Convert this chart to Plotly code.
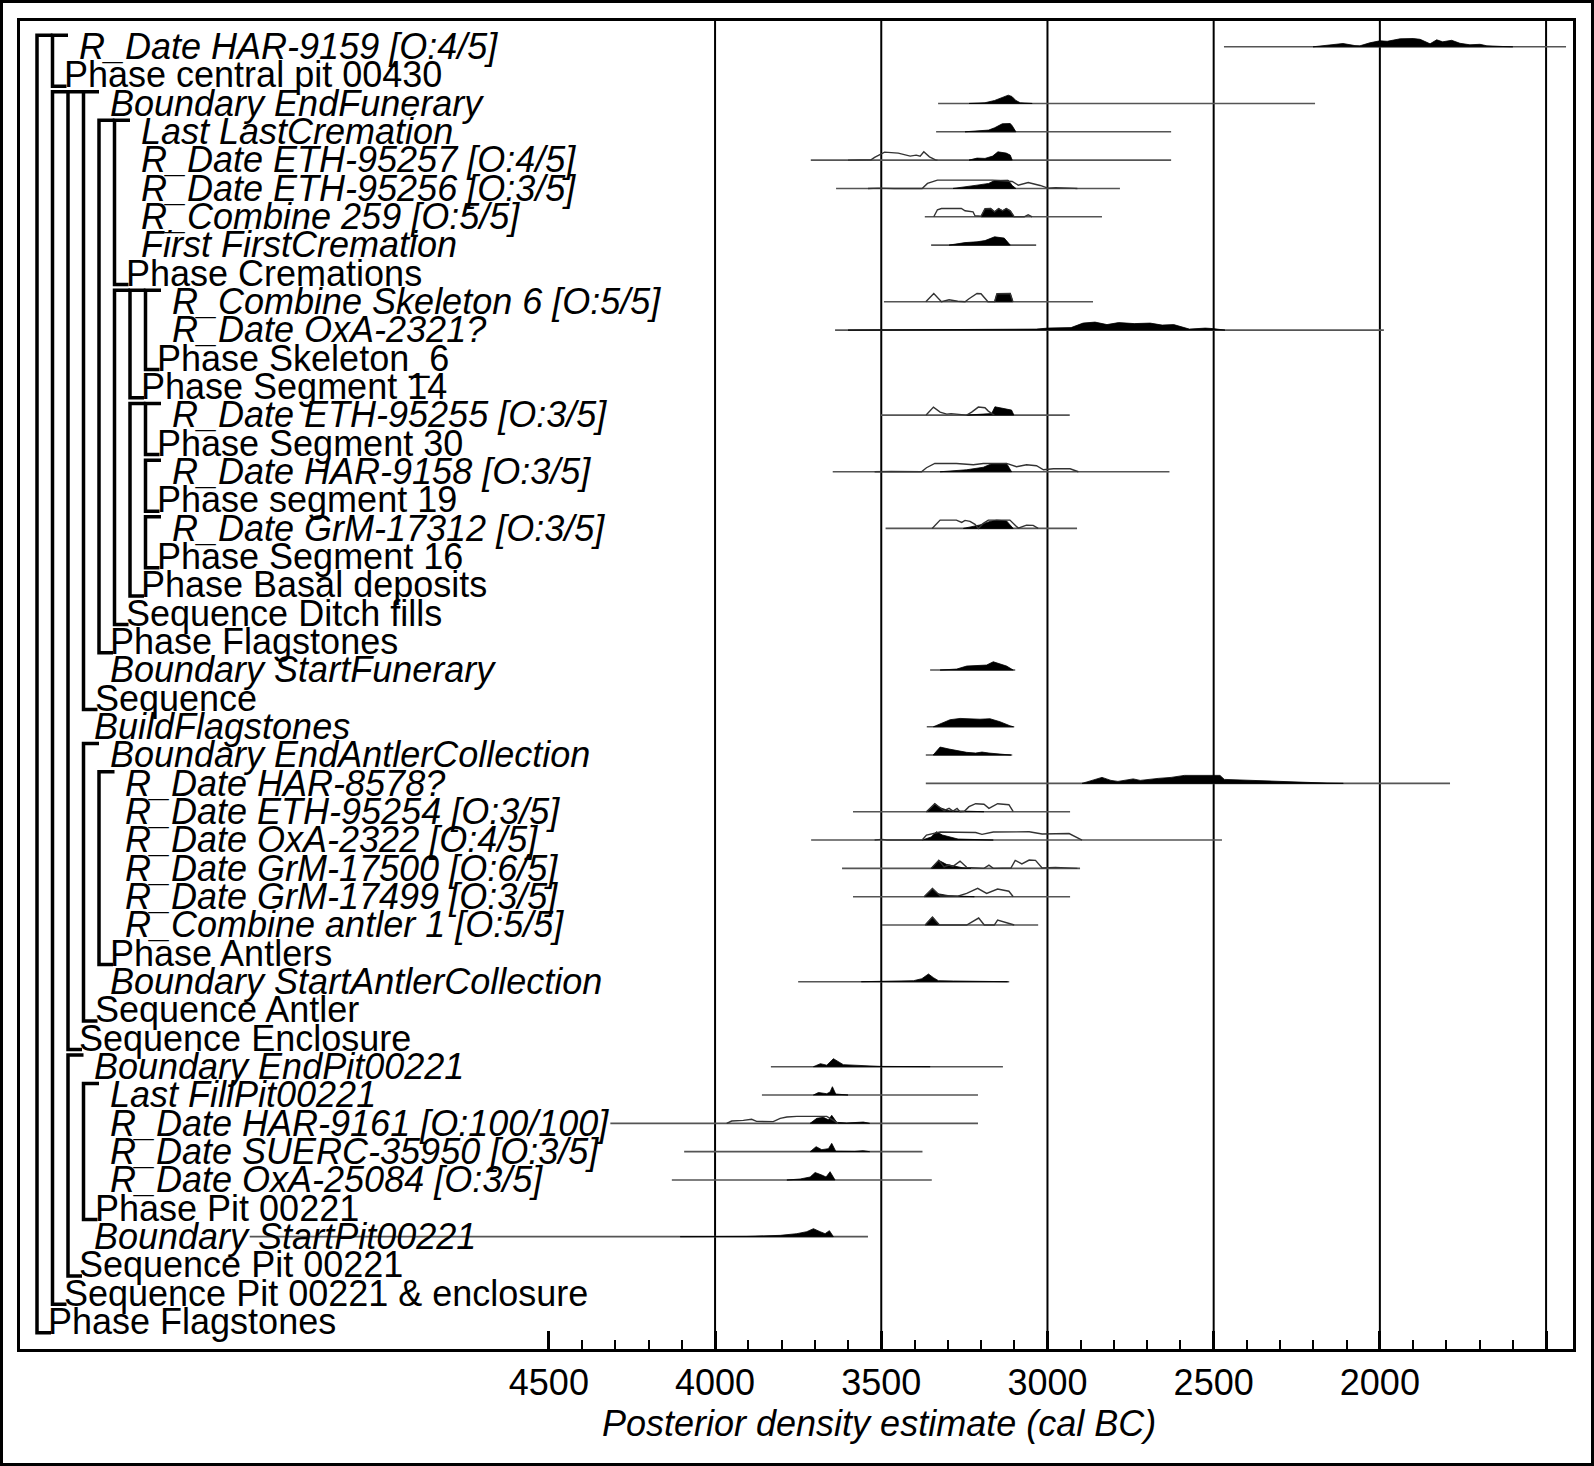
import plotly.graph_objects as go

# ---- row labels (top to bottom) and tree level of each row ----
labels = [
    "R_Date HAR-9159 [O:4/5]", "Phase central pit 00430", "Boundary EndFunerary",
    "Last LastCremation", "R_Date ETH-95257 [O:4/5]", "R_Date ETH-95256 [O:3/5]",
    "R_Combine 259 [O:5/5]", "First FirstCremation", "Phase Cremations",
    "R_Combine Skeleton 6 [O:5/5]", "R_Date OxA-2321?", "Phase Skeleton_6",
    "Phase Segment 14", "R_Date ETH-95255 [O:3/5]", "Phase Segment 30",
    "R_Date HAR-9158 [O:3/5]", "Phase segment 19", "R_Date GrM-17312 [O:3/5]",
    "Phase Segment 16", "Phase Basal deposits", "Sequence Ditch fills",
    "Phase Flagstones", "Boundary StartFunerary", "Sequence", "BuildFlagstones",
    "Boundary EndAntlerCollection", "R_Date HAR-8578?", "R_Date ETH-95254 [O:3/5]",
    "R_Date OxA-2322 [O:4/5]", "R_Date GrM-17500 [O:6/5]", "R_Date GrM-17499 [O:3/5]",
    "R_Combine antler 1 [O:5/5]", "Phase Antlers", "Boundary StartAntlerCollection",
    "Sequence Antler", "Sequence Enclosure", "Boundary EndPit00221",
    "Last FillPit00221", "R_Date HAR-9161 [O:100/100]", "R_Date SUERC-35950 [O:3/5]",
    "R_Date OxA-25084 [O:3/5]", "Phase Pit 00221", "Boundary StartPit00221",
    "Sequence Pit 00221", "Sequence Pit 00221 & enclosure", "Phase Flagstones",
]
levels = [2, 1, 4, 6, 6, 6, 6, 6, 5, 8, 8, 7, 6, 8, 7, 8, 7, 8, 7, 6, 5, 4, 4, 3, 3,
          4, 5, 5, 5, 5, 5, 5, 4, 4, 3, 2, 3, 4, 4, 4, 4, 3, 3, 2, 1, 0]

# ---- range lines (cal BC), by row number ----
range_lo = {1: 2469, 3: 3329, 4: 3335, 5: 3712, 6: 3636, 7: 3369, 8: 3350, 10: 3492,
            11: 3639, 14: 3501, 16: 3646, 18: 3487, 23: 3353, 25: 3363, 26: 3366,
            27: 3366, 28: 3585, 29: 3711, 30: 3618, 31: 3585, 32: 3498, 34: 3750,
            37: 3832, 38: 3859, 39: 4315, 40: 4093, 41: 4130, 43: 5400}
range_hi = {1: 1440, 3: 2195, 4: 2628, 5: 2628, 6: 2782, 7: 2836, 8: 3034, 10: 2863,
            11: 1988, 14: 2933, 16: 2633, 18: 2911, 23: 3097, 25: 3100, 26: 3106,
            27: 1789, 28: 2932, 29: 2475, 30: 2902, 31: 2932, 32: 3028, 34: 3115,
            37: 3134, 38: 3209, 39: 3209, 40: 3376, 41: 3348, 43: 3540}

# ---- posterior densities (year, relative height) ----
HAR_9159 = [(2201, 0), (2141, 1.7), (2111, 3.3), (2075, 1.2), (2060, 1), (2030, 4), (2000, 6),
            (1978, 5.5), (1939, 8), (1900, 8.3), (1879, 7.5), (1849, 3), (1829, 7), (1811, 5),
            (1784, 6.5), (1759, 3.5), (1729, 2), (1699, 2.5), (1678, 1), (1630, 0.3), (1600, 0)]
EndFunerary = [(3236, 0), (3188, 0.7), (3159, 3), (3141, 5), (3118, 8.3), (3107, 7), (3095, 3),
               (3082, 0.7), (3046, 0)]
LastCremation = [(3248, 0), (3212, 1), (3177, 1.7), (3159, 4), (3136, 8), (3112, 8.3), (3106, 6),
                 (3095, 0)]
ETH_95257 = [(3236, 0), (3212, 2), (3188, 1.7), (3165, 4), (3149, 8.3), (3124, 7), (3112, 5), (3106, 0)]
ETH_95256 = [(3284, 0), (3248, 2), (3212, 3.3), (3177, 5), (3159, 8), (3118, 8.3), (3106, 3), (3095, 0)]
Combine_259 = [(3200, 0), (3188, 8), (3171, 8.3), (3159, 5), (3147, 8.3), (3135, 6), (3124, 8.3),
               (3112, 6), (3100, 0)]
FirstCremation = [(3296, 0), (3248, 2.5), (3212, 3.3), (3188, 4.5), (3159, 8.3), (3130, 7), (3112, 0)]
Skeleton_6 = [(3159, 0), (3152, 8), (3112, 8.3), (3104, 0)]
OxA_2321 = [(3600, 0), (3389, 0.3), (3106, 0.3), (3034, 1), (2999, 2), (2929, 2.5), (2893, 7),
            (2857, 8), (2821, 5.5), (2786, 7.5), (2739, 6.5), (2691, 7), (2655, 5), (2620, 5.5),
            (2573, 1), (2525, 2), (2502, 1.5), (2466, 0)]
ETH_95255 = [(3243, 0), (3203, 1), (3168, 1.5), (3158, 8.3), (3133, 7), (3108, 5), (3101, 0)]
HAR_9158 = [(3323, 0), (3243, 2), (3193, 4.5), (3168, 8), (3123, 8.3), (3108, 0)]
GrM_17312 = [(3253, 0), (3223, 2), (3203, 3.5), (3173, 7), (3153, 8.3), (3123, 7.5), (3103, 0)]
StartFunerary = [(3323, 0), (3273, 1), (3243, 4), (3213, 4.5), (3183, 5), (3163, 8.3), (3143, 6.5),
                 (3123, 4), (3103, 0)]
BuildFlag = [(3343, 0), (3323, 3), (3293, 7), (3263, 8.3), (3233, 8), (3203, 7.5), (3173, 8),
             (3143, 5), (3113, 1), (3103, 0)]
EndAntler = [(3344, 0), (3323, 8), (3296, 6), (3243, 2.7), (3216, 2), (3197, 3), (3176, 2),
             (3136, 0.5), (3110, 0)]
HAR_8578 = [(2896, 0), (2869, 3), (2836, 6), (2809, 3), (2788, 2), (2742, 4.5), (2721, 3), (2667, 5),
            (2628, 6), (2588, 8), (2535, 8.3), (2481, 8), (2468, 4), (2426, 3.5), (2387, 3),
            (2348, 2.5), (2306, 1.5), (2228, 0.7), (2159, 0.3), (2110, 0)]
ETH_95254 = [(3364, 0), (3339, 8), (3323, 4), (3296, 1), (3240, 0.5), (3191, 0)]
OxA_2322 = [(3377, 0), (3350, 3), (3334, 8.3), (3316, 5), (3269, 1), (3191, 0.3), (3163, 0)]
GrM_17500 = [(3350, 0), (3327, 8), (3304, 4), (3277, 2.5), (3257, 0.7), (3230, 0)]
GrM_17499 = [(3371, 0), (3346, 8.3), (3330, 3), (3296, 1), (3260, 0.5), (3220, 0)]
Antler_1 = [(3368, 0), (3346, 8), (3325, 0)]
StartAntler = [(3560, 0), (3473, 0.3), (3403, 1), (3378, 3), (3358, 7.7), (3343, 4), (3328, 1),
               (3283, 0.7), (3203, 0.3), (3120, 0)]
EndPit = [(3704, 0), (3683, 3), (3664, 1.5), (3644, 8), (3614, 2), (3554, 0.7), (3504, 0.3), (3353, 0)]
FillPit = [(3704, 0), (3689, 2.5), (3664, 1.3), (3654, 3), (3647, 8.3), (3637, 1), (3600, 0)]
HAR_9161 = [(3714, 0), (3694, 5), (3674, 6), (3659, 3.5), (3649, 8), (3634, 1), (3604, 0.3),
            (3554, 1.3), (3535, 0)]
SUERC_35950 = [(3714, 0), (3696, 5), (3679, 2), (3659, 3), (3649, 8.3), (3637, 0.5), (3580, 0.3),
               (3554, 1), (3535, 0)]
OxA_25084 = [(3784, 0), (3744, 1), (3714, 3), (3699, 7.5), (3679, 5), (3666, 3), (3654, 8.3), (3639, 0)]
StartPit = [(4105, 0), (3905, 0.3), (3804, 1.3), (3754, 3), (3724, 5), (3704, 8), (3684, 5),
            (3669, 3), (3656, 6), (3644, 0)]

# ---- unmodelled likelihoods (outlines) ----
ETH_95257_lik = [(3600, 0), (3540, 0.5), (3531, 0.3), (3520, 2.7), (3490, 8), (3449, 7), (3413, 4),
                 (3395, 5), (3383, 4), (3372, 8.3), (3355, 3.3), (3337, 0.3), (3331, 0)]
ETH_95256_lik = [(3540, 0), (3509, 0.3), (3461, 0), (3377, 0), (3361, 5), (3331, 8.3), (3259, 8.3),
                 (3165, 8.3), (3106, 7), (3088, 3.3), (3058, 6), (3022, 3), (2999, 0.3),
                 (2976, 0.7), (2929, 0.3), (2910, 0)]
Combine_259_lik = [(3342, 0), (3331, 7), (3319, 8.3), (3259, 8.3), (3248, 6), (3224, 5), (3218, 1),
                   (3200, 0.5), (3188, 8), (3171, 8.3), (3159, 5), (3147, 8.3), (3135, 6),
                   (3124, 8.3), (3112, 6), (3100, 0), (3070, 0), (3058, 2), (3046, 0)]
Skeleton_6_lik = [(3366, 0), (3342, 8.3), (3319, 0), (3296, 2), (3270, 0.5), (3248, 0), (3236, 3),
                  (3212, 8.3), (3200, 8), (3179, 0), (3159, 0), (3152, 8), (3112, 8.3), (3104, 0)]
ETH_95255_lik = [(3365, 0), (3343, 8), (3323, 3), (3303, 1), (3290, 1.5), (3270, 1), (3243, 0),
                 (3228, 3), (3208, 8), (3188, 7.3), (3178, 4), (3160, 0)]
HAR_9158_lik = [(3520, 0), (3494, 0.5), (3470, 0.3), (3379, 0), (3364, 4), (3339, 8.3), (3274, 8.3),
                (3223, 7), (3193, 8.3), (3123, 8.3), (3093, 5), (3063, 7), (3033, 6), (3012, 2),
                (2982, 3), (2932, 3), (2907, 0)]
GrM_17312_lik = [(3347, 0), (3323, 8.3), (3274, 8.3), (3258, 6), (3248, 8), (3233, 7), (3218, 4),
                 (3208, 0), (3193, 5), (3178, 8.3), (3113, 8.3), (3103, 5), (3088, 0.3),
                 (3063, 3.3), (3043, 3), (3028, 0)]
ETH_95254_lik = [(3364, 0), (3339, 8), (3323, 4), (3311, 1), (3296, 3.3), (3284, 0.7), (3272, 3.3),
                 (3263, 0), (3250, 0.5), (3236, 5), (3216, 8), (3191, 7.5), (3176, 3.3), (3150, 8),
                 (3116, 7), (3103, 0)]
OxA_2322_lik = [(3520, 0), (3498, 0.7), (3483, 0), (3377, 0), (3364, 5), (3323, 8), (3216, 7.5),
                (3197, 5.7), (3163, 8), (3055, 8.3), (3016, 6), (3002, 6), (2935, 6.5), (2896, 0)]
GrM_17500_lik = [(3350, 0), (3327, 8), (3311, 1.5), (3296, 3.3), (3284, 2), (3263, 7.3), (3243, 1),
                 (3191, 0), (3176, 3.3), (3163, 0), (3110, 0.3), (3097, 8), (3077, 4.5), (3055, 8.3),
                 (3036, 8), (3016, 0.3), (2976, 1), (2935, 0.5), (2910, 0)]
GrM_17499_lik = [(3371, 0), (3346, 8.3), (3323, 1), (3296, 1), (3270, 0.5), (3243, 3.3), (3210, 8.3),
                 (3183, 3.3), (3150, 7.7), (3116, 5.5), (3103, 0)]
Antler_1_lik = [(3368, 0), (3346, 8), (3325, 0), (3243, 0), (3207, 7), (3190, 0), (3160, 0),
                (3150, 5), (3110, 1), (3100, 0)]
HAR_9161_lik = [(3965, 0), (3950, 2.3), (3915, 3), (3890, 4), (3875, 2), (3825, 1.7), (3804, 5),
                (3784, 6.3), (3754, 7), (3704, 7.3), (3664, 7), (3644, 3), (3630, 0)]

posterior = {1: HAR_9159, 3: EndFunerary, 4: LastCremation, 5: ETH_95257, 6: ETH_95256,
             7: Combine_259, 8: FirstCremation, 10: Skeleton_6, 11: OxA_2321, 14: ETH_95255,
             16: HAR_9158, 18: GrM_17312, 23: StartFunerary, 25: BuildFlag, 26: EndAntler,
             27: HAR_8578, 28: ETH_95254, 29: OxA_2322, 30: GrM_17500, 31: GrM_17499,
             32: Antler_1, 34: StartAntler, 37: EndPit, 38: FillPit, 39: HAR_9161,
             40: SUERC_35950, 41: OxA_25084, 43: StartPit}
likelihood = {5: ETH_95257_lik, 6: ETH_95256_lik, 7: Combine_259_lik, 10: Skeleton_6_lik,
              14: ETH_95255_lik, 16: HAR_9158_lik, 18: GrM_17312_lik, 28: ETH_95254_lik,
              29: OxA_2322_lik, 30: GrM_17500_lik, 31: GrM_17499_lik, 32: Antler_1_lik,
              39: HAR_9161_lik}

major_ticks = [4500, 4000, 3500, 3000, 2500, 2000, 1500]
major_text = ["4500", "4000", "3500", "3000", "2500", "2000", ""]
grid_years = [4000, 3500, 3000, 2500, 2000, 1500]

# ---- layout geometry (pixels) ----
W, H = 1594, 1466
PL, PR, PT, PB = 20, 1573, 21, 1349
ROW0, ROWPX = 46.8, 28.33
X_LEFT, X_RIGHT = 6091, 1419
HSCALE = 1.0 / ROWPX          # density height units -> rows
FONT = "Liberation Sans, Arial, sans-serif"
FS = 36
LX0, LSTEP = 37, 15.5

y_top = 1 + (PT - ROW0) / ROWPX
y_bot = 1 + (PB - ROW0) / ROWPX

fig = go.Figure()

# range lines
rx, ry = [], []
for r in range_lo:
    rx += [range_lo[r], range_hi[r], None]
    ry += [r, r, None]
fig.add_trace(go.Scatter(x=rx, y=ry, mode="lines", line=dict(color="#555555", width=1.6),
                         hoverinfo="skip"))

# posteriors (filled)
for r, pts in posterior.items():
    xs = [p[0] for p in pts]
    ys = [r - p[1] * HSCALE for p in pts]
    fig.add_trace(go.Scatter(x=xs + [xs[0]], y=ys + [ys[0]], mode="lines", fill="toself",
                             fillcolor="black", line=dict(color="black", width=0.8),
                             hoverinfo="skip"))

# likelihood outlines
for r, pts in likelihood.items():
    fig.add_trace(go.Scatter(x=[p[0] for p in pts], y=[r - p[1] * HSCALE for p in pts],
                             mode="lines", line=dict(color="#333333", width=1.4),
                             hoverinfo="skip"))

# vertical grid lines
for g in grid_years:
    fig.add_shape(type="line", xref="x", yref="paper", x0=g, x1=g,
                  y0=1 - PB / H, y1=1 - PT / H, line=dict(color="black", width=2), layer="below")

# tree brackets
n = len(labels)
for i in range(n):
    name = labels[i]
    if not (name.startswith("Phase") or name.startswith("Sequence")):
        continue
    lv = levels[i]
    j = i
    while j - 1 >= 0 and levels[j - 1] > lv:
        j -= 1
    xb = LX0 + LSTEP * lv
    top = (j + 1) - 0.41
    bot = (i + 1) + 0.39
    path = "M {a},{t} L {b},{t} L {b},{u} L {c},{u}".format(
        a=(xb + LSTEP) / W, b=xb / W, c=(xb + 14) / W, t=top, u=bot)
    fig.add_shape(type="path", xref="paper", yref="y", path=path,
                  line=dict(color="black", width=3.5))

# row labels
for i, name in enumerate(labels):
    lv = levels[i]
    group = name.startswith("Phase") or name.startswith("Sequence")
    if group:
        xpx = LX0 + LSTEP * lv + 9
        txt = name
    else:
        xpx = LX0 + LSTEP * (lv - 1) + 24
        txt = "<i>" + name + "</i>"
    txt = txt.replace("&", "&amp;")
    fig.add_annotation(x=xpx / W, xref="paper", y=(i + 1) - 0.01, yref="y", text=txt,
                       showarrow=False, xanchor="left", yanchor="middle",
                       font=dict(family=FONT, size=FS, color="black"))

fig.add_annotation(x=879 / W, xref="paper", y=1 - 1423 / H, yref="paper",
                   text="<i>Posterior density estimate (cal BC)</i>", showarrow=False,
                   xanchor="center", yanchor="middle", font=dict(family=FONT, size=36, color="black"))

# outer border
fig.add_shape(type="rect", xref="paper", yref="paper", x0=1.5 / W, x1=1 - 1.5 / W,
              y0=1.5 / H, y1=1 - 1.5 / H, line=dict(color="black", width=3))

minor_ticks = [y for y in range(1600, 4500, 100) if y % 500 != 0]

fig.update_layout(
    width=W, height=H, margin=dict(l=0, r=0, t=0, b=0),
    paper_bgcolor="white", plot_bgcolor="white", showlegend=False, hovermode=False,
    xaxis=dict(domain=[PL / W, PR / W], range=[X_LEFT, X_RIGHT], showline=True, mirror=True,
               linecolor="black", linewidth=3, showgrid=False, zeroline=False,
               ticks="inside", tickmode="array", tickvals=major_ticks, ticktext=major_text,
               ticklen=18, tickwidth=2.5, tickcolor="black",
               tickfont=dict(family=FONT, size=36, color="black"),
               minor=dict(tickmode="array", tickvals=minor_ticks, ticks="inside", ticklen=9,
                          tickwidth=1.5, tickcolor="black", showgrid=False)),
    yaxis=dict(domain=[1 - PB / H, 1 - PT / H], range=[y_bot, y_top], showline=True, mirror=True,
               linecolor="black", linewidth=3, showgrid=False, zeroline=False,
               showticklabels=False, ticks=""),
)

fig.write_html("out.html", config={"displayModeBar": False},
               post_script="document.body.style.margin='0px';")
